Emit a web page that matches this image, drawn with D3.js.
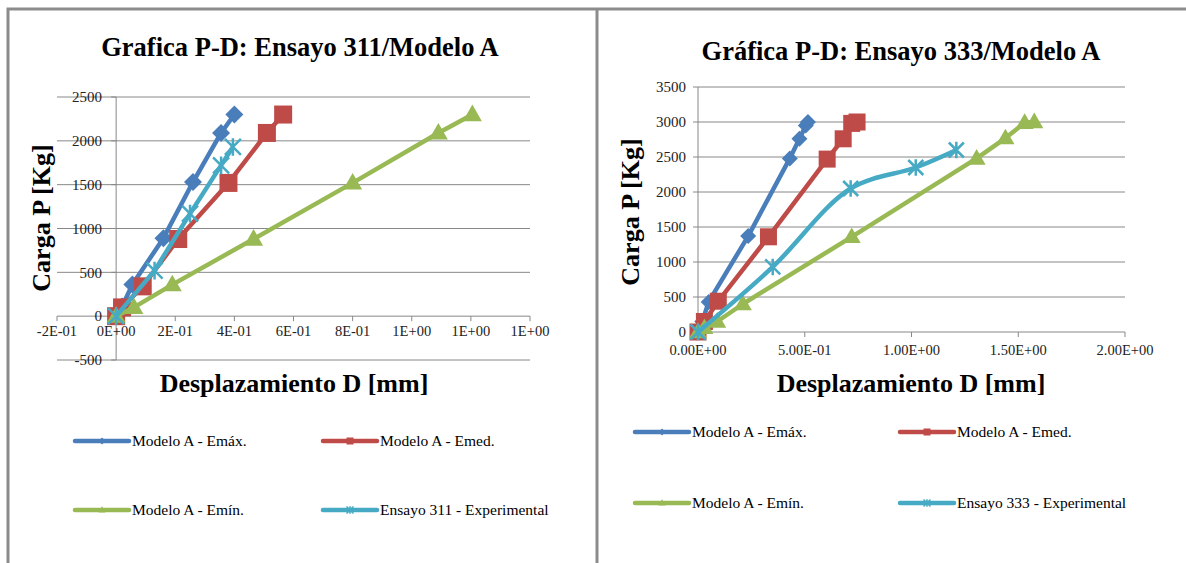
<!DOCTYPE html>
<html>
<head>
<meta charset="utf-8">
<script src="https://cdn.jsdelivr.net/npm/d3@7"></script>
<style>
  body { margin: 0; background: #fff; }
</style>
</head>
<body>
<svg id="plot" width="1186" height="563"></svg>
<script>
// ---- data: Ensayo 311 (left) ----
const e311MaxD = [0, 0.02, 0.055, 0.16, 0.26, 0.355, 0.40];
const e311MaxP = [0, 110, 360, 890, 1530, 2090, 2300];
const e311MedD = [0, 0.02, 0.09, 0.21, 0.38, 0.51, 0.565];
const e311MedP = [0, 100, 340, 880, 1520, 2090, 2300];
const e311MinD = [0, 0.06, 0.19, 0.465, 0.80, 1.09, 1.205];
const e311MinP = [0, 100, 360, 880, 1520, 2090, 2300];
const e311ExpD = [0, 0.13, 0.25, 0.355, 0.395];
const e311ExpP = [0, 520, 1170, 1720, 1930];
const e311XTicks = [-0.2, 0, 0.2, 0.4, 0.6, 0.8, 1.0, 1.2, 1.4];
const e311XLabels = ["-2E-01", "0E+00", "2E-01", "4E-01", "6E-01", "8E-01", "1E+00", "1E+00", "1E+00"];
const e311YTicks = [-500, 0, 500, 1000, 1500, 2000, 2500];

// ---- data: Ensayo 333 (right) ----
const e333MaxD = [0, 0.02, 0.05, 0.235, 0.43, 0.475, 0.505, 0.515];
const e333MaxP = [0, 150, 430, 1370, 2480, 2760, 2950, 3000];
const e333MedD = [0, 0.03, 0.095, 0.33, 0.605, 0.68, 0.72, 0.745];
const e333MedP = [0, 150, 440, 1360, 2470, 2760, 2980, 3000];
const e333MinD = [0, 0.03, 0.09, 0.21, 0.72, 1.305, 1.44, 1.53, 1.575];
const e333MinP = [0, 60, 150, 400, 1360, 2480, 2770, 2990, 3000];
const e333ExpD = [0, 0.35, 0.715, 1.02, 1.21];
const e333ExpP = [0, 930, 2050, 2350, 2600];
const e333XTicks = [0, 0.5, 1.0, 1.5, 2.0];
const e333XLabels = ["0.00E+00", "5.00E-01", "1.00E+00", "1.50E+00", "2.00E+00"];
const e333YTicks = [0, 500, 1000, 1500, 2000, 2500, 3000, 3500];

const colors = { max: "#4a7ebb", med: "#be4b48", min: "#98b954", exp: "#46aac5" };
const gridColor = "#888";
const serif = "'Liberation Serif'";

const svg = d3.select("#plot");

// panel frame lines
svg.append("path")
  .attr("d", "M8,563 V9 H1186 M597,9 V563")
  .attr("fill", "none")
  .attr("stroke", "#8c8c8c")
  .attr("stroke-width", 3);

function zip(xs, ys) { return xs.map((d, i) => [d, ys[i]]); }

function marker(g, type, cx, cy, s, color) {
  if (type === "diamond") {
    g.append("path")
      .attr("d", d3.symbol(d3.symbolSquare, s * s / 2)())
      .attr("transform", `translate(${cx},${cy}) rotate(45)`)
      .attr("fill", color);
  } else if (type === "square") {
    g.append("rect")
      .attr("x", cx - s / 2).attr("y", cy - s / 2)
      .attr("width", s).attr("height", s)
      .attr("fill", color);
  } else if (type === "triangle") {
    const h = s * 0.87;
    g.append("path")
      .attr("d", `M${cx},${cy - h * 0.6} L${cx + s / 2},${cy + h * 0.4} L${cx - s / 2},${cy + h * 0.4} Z`)
      .attr("fill", color);
  } else {
    const r = s / 2;
    g.append("path")
      .attr("d", `M${cx - r},${cy - r} L${cx + r},${cy + r} M${cx - r},${cy + r} L${cx + r},${cy - r} M${cx},${cy - r * 1.1} V${cy + r * 1.1}`)
      .attr("stroke", color)
      .attr("stroke-width", s > 10 ? 2.5 : 1.5)
      .attr("fill", "none");
  }
}

function drawChart(cfg) {
  const g = svg.append("g");
  const x = d3.scaleLinear().domain(cfg.xDomain).range(cfg.xRange);
  const y = d3.scaleLinear().domain(cfg.yDomain).range(cfg.yRange);

  // horizontal gridlines
  g.append("g").selectAll("line")
    .data(cfg.yTicks)
    .join("line")
      .attr("x1", cfg.xRange[0]).attr("x2", cfg.xRange[1])
      .attr("y1", d => y(d)).attr("y2", d => y(d))
      .attr("stroke", gridColor).attr("stroke-width", 1);

  // vertical axis at D = 0
  g.append("line")
    .attr("x1", x(0)).attr("x2", x(0))
    .attr("y1", y(cfg.yDomain[0])).attr("y2", y(cfg.yDomain[1]))
    .attr("stroke", gridColor);
  g.append("g").selectAll("line")
    .data(cfg.yTicks)
    .join("line")
      .attr("x1", x(0) - 5).attr("x2", x(0))
      .attr("y1", d => y(d)).attr("y2", d => y(d))
      .attr("stroke", gridColor);

  // x axis ticks below P = 0
  g.append("g").selectAll("line")
    .data(cfg.xTicks)
    .join("line")
      .attr("x1", d => x(d)).attr("x2", d => x(d))
      .attr("y1", y(0)).attr("y2", y(0) + 5)
      .attr("stroke", gridColor);

  // tick labels
  g.append("g").selectAll("text")
    .data(cfg.yTicks)
    .join("text")
      .attr("x", cfg.yLabelX)
      .attr("y", d => y(d))
      .attr("dy", "0.35em")
      .attr("text-anchor", "end")
      .attr("font-size", 15)
      .attr("fill", "#222")
      .style("font-family", serif)
      .text(d => d);
  g.append("g").selectAll("text")
    .data(cfg.xTicks)
    .join("text")
      .attr("x", d => x(d))
      .attr("y", y(0) + cfg.xLabelDy)
      .attr("text-anchor", "middle")
      .attr("font-size", 14.5)
      .attr("fill", "#222")
      .style("font-family", serif)
      .text((d, i) => cfg.xLabels[i]);

  // titles
  g.append("text")
    .attr("x", cfg.titleX).attr("y", cfg.titleY)
    .attr("text-anchor", "middle")
    .attr("font-size", 26.5).attr("font-weight", "bold")
    .style("font-family", serif)
    .text(cfg.title);
  g.append("text")
    .attr("x", cfg.xTitleX).attr("y", 392)
    .attr("text-anchor", "middle")
    .attr("font-size", 26).attr("font-weight", "bold")
    .style("font-family", serif)
    .text("Desplazamiento D [mm]");
  g.append("text")
    .attr("transform", `translate(${cfg.yTitleX},${cfg.yTitleY}) rotate(-90)`)
    .attr("text-anchor", "middle")
    .attr("font-size", 26).attr("font-weight", "bold")
    .style("font-family", serif)
    .text("Carga P [Kg]");

  // series
  cfg.series.forEach(s => {
    const pts = zip(s.d, s.p);
    const line = d3.line()
      .x(d => x(d[0])).y(d => y(d[1]))
      .curve(s.smooth ? d3.curveCatmullRom.alpha(0.5) : d3.curveLinear);
    g.append("path")
      .attr("d", line(pts))
      .attr("fill", "none")
      .attr("stroke", s.color)
      .attr("stroke-width", 4.5)
      .attr("stroke-linejoin", "round");
    const mg = g.append("g");
    pts.forEach(d => marker(mg, s.marker, x(d[0]), y(d[1]), s.size, s.color));
  });

  // legend
  cfg.series.forEach((s, i) => {
    const lx = cfg.legendX[i % 2];
    const ly = cfg.legendY[Math.floor(i / 2)];
    const lg = g.append("g");
    lg.append("line")
      .attr("x1", lx).attr("x2", lx + 54)
      .attr("y1", ly).attr("y2", ly)
      .attr("stroke", s.color).attr("stroke-width", 4.5)
      .attr("stroke-linecap", "round");
    marker(lg, s.marker, lx + 27, ly, 7, s.color);
    lg.append("text")
      .attr("x", lx + 57).attr("y", ly)
      .attr("dy", "0.35em")
      .attr("font-size", 15.5)
      .style("font-family", serif)
      .text(s.name);
  });
}

drawChart({
  title: "Grafica P-D: Ensayo 311/Modelo A",
  titleX: 300, titleY: 56,
  xTitleX: 294, yTitleX: 50, yTitleY: 218,
  xDomain: [-0.2, 1.4], xRange: [57, 530],
  yDomain: [-500, 2500], yRange: [360, 97],
  xTicks: e311XTicks, xLabels: e311XLabels, yTicks: e311YTicks,
  yLabelX: 102, xLabelDy: 20,
  legendX: [75, 323], legendY: [441, 510],
  series: [
    { name: "Modelo A - Emáx.", d: e311MaxD, p: e311MaxP, color: colors.max, marker: "diamond", size: 18 },
    { name: "Modelo A - Emed.", d: e311MedD, p: e311MedP, color: colors.med, marker: "square", size: 18 },
    { name: "Modelo A - Emín.", d: e311MinD, p: e311MinP, color: colors.min, marker: "triangle", size: 19 },
    { name: "Ensayo 311 - Experimental", d: e311ExpD, p: e311ExpP, color: colors.exp, marker: "star", size: 16 }
  ]
});

drawChart({
  title: "Gráfica P-D: Ensayo 333/Modelo A",
  titleX: 901, titleY: 60,
  xTitleX: 911, yTitleX: 639, yTitleY: 212,
  xDomain: [0, 2], xRange: [698, 1125],
  yDomain: [0, 3500], yRange: [332, 87],
  xTicks: e333XTicks, xLabels: e333XLabels, yTicks: e333YTicks,
  yLabelX: 686, xLabelDy: 23,
  legendX: [635, 900], legendY: [432, 503],
  series: [
    { name: "Modelo A - Emáx.", d: e333MaxD, p: e333MaxP, color: colors.max, marker: "diamond", size: 16 },
    { name: "Modelo A - Emed.", d: e333MedD, p: e333MedP, color: colors.med, marker: "square", size: 17 },
    { name: "Modelo A - Emín.", d: e333MinD, p: e333MinP, color: colors.min, marker: "triangle", size: 18 },
    { name: "Ensayo 333 - Experimental", d: e333ExpD, p: e333ExpP, color: colors.exp, marker: "star", size: 15, smooth: true }
  ]
});
</script>
</body>
</html>
